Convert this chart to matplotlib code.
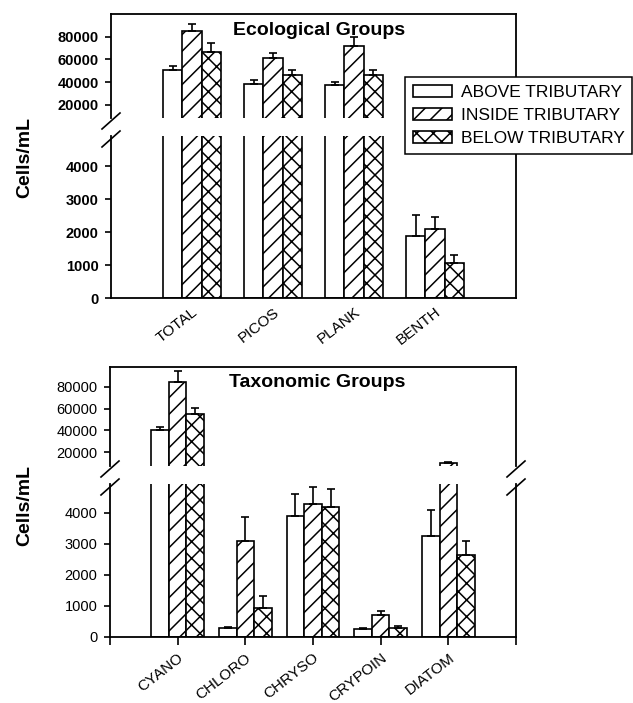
import numpy as np
import matplotlib.pyplot as plt
from matplotlib.lines import Line2D

plt.rcParams['font.family'] = ['Liberation Sans', 'DejaVu Sans']
plt.rcParams['hatch.linewidth'] = 1.1

series = ['ABOVE TRIBUTARY', 'INSIDE TRIBUTARY', 'BELOW TRIBUTARY']
hatches = ['', '//', 'xx']

# ecological groups (cells/mL), error = upward bar length
eco_groups = ['TOTAL', 'PICOS', 'PLANK', 'BENTH']
eco_above = [50300, 38600, 37400, 1880]
eco_above_err = [3900, 3200, 2600, 640]
eco_inside = [84900, 61000, 72200, 2090]
eco_inside_err = [5900, 4400, 7400, 380]
eco_below = [66300, 46500, 46500, 1060]
eco_below_err = [8300, 4500, 4500, 250]

# taxonomic groups
tax_groups = ['CYANO', 'CHLORO', 'CHRYSO', 'CRYPOIN', 'DIATOM']
tax_above = [40400, 290, 3890, 270, 3260]
tax_above_err = [3000, 30, 710, 30, 830]
tax_inside = [83900, 3090, 4280, 700, 9800]
tax_inside_err = [10600, 760, 560, 130, 1400]
tax_below = [55000, 935, 4180, 300, 2640]
tax_below_err = [5200, 385, 570, 40, 460]

W, H = 633, 703
fig = plt.figure(figsize=(W / 100, H / 100), dpi=100)


def px_axes(left, right, top, bottom):
    return fig.add_axes([left / W, 1 - bottom / H, (right - left) / W, (bottom - top) / H])


def break_mark(x, y):
    # x, y in pixels from top-left
    dx, dy = 9, 8
    fig.add_artist(Line2D([(x - dx) / W, (x + dx) / W],
                          [1 - (y + dy) / H, 1 - (y - dy) / H],
                          color='black', lw=1.2, transform=fig.transFigure))


def draw_bars(ax, values, errors, width):
    n = len(values[0])
    x = np.arange(1, n + 1)
    bars = []
    for i in range(3):
        pos = x + (i - 1) * width
        b = ax.bar(pos, values[i], width, color='white', edgecolor='black',
                   hatch=hatches[i], linewidth=1.2, label=series[i])
        ax.errorbar(pos, values[i], yerr=[np.zeros(n), errors[i]], fmt='none',
                    ecolor='black', elinewidth=1.2, capsize=3, capthick=1.2)
        bars.append(b)
    return bars


def style_pair(ax_hi, ax_lo, hi_lim, lo_lim, nx, weight):
    ax_hi.set_ylim(*hi_lim)
    ax_lo.set_ylim(*lo_lim)
    for ax in (ax_hi, ax_lo):
        ax.set_xlim(0, nx + 1)
        for s in ax.spines.values():
            s.set_linewidth(1.3)
        ax.tick_params(axis='y', direction='out', length=4, width=1.2, pad=5,
                       labelsize=10.5)
    ax_hi.spines['bottom'].set_visible(False)
    ax_lo.spines['top'].set_visible(False)
    ax_hi.tick_params(axis='x', bottom=False, labelbottom=False)
    ax_hi.set_yticks([20000, 40000, 60000, 80000])
    ax_lo.set_yticks([0, 1000, 2000, 3000, 4000])
    for ax in (ax_hi, ax_lo):
        for lab in ax.get_yticklabels():
            lab.set_fontweight(weight)


# ---- top chart: ecological groups
ax1h = px_axes(111, 516, 14, 118)
ax1l = px_axes(111, 516, 136, 298)
eco_vals = [eco_above, eco_inside, eco_below]
eco_errs = [eco_above_err, eco_inside_err, eco_below_err]
bars = draw_bars(ax1h, eco_vals, eco_errs, 0.24)
draw_bars(ax1l, eco_vals, eco_errs, 0.24)
style_pair(ax1h, ax1l, (8500, 100000), (0, 4910), len(eco_groups), 'bold')
ax1l.set_xticks(np.arange(1, len(eco_groups) + 1))
ax1l.set_xticklabels(eco_groups, rotation=38, ha='right', rotation_mode='anchor',
                     fontsize=11)
ax1l.tick_params(axis='x', length=0, pad=5)
ax1h.text(0.514, 0.84, 'Ecological Groups', transform=ax1h.transAxes,
          ha='center', va='center', fontsize=14, fontweight='bold')
break_mark(111, 121)
break_mark(111, 139)
fig.text(25 / W, 1 - 157 / H, 'Cells/mL', rotation=90, ha='center', va='center',
         fontsize=14, fontweight='bold')

# ---- bottom chart: taxonomic groups
ax2h = px_axes(110, 516, 367, 466)
ax2l = px_axes(110, 516, 484, 637)
tax_vals = [tax_above, tax_inside, tax_below]
tax_errs = [tax_above_err, tax_inside_err, tax_below_err]
draw_bars(ax2h, tax_vals, tax_errs, 0.26)
draw_bars(ax2l, tax_vals, tax_errs, 0.26)
style_pair(ax2h, ax2l, (7500, 98000), (0, 4925), len(tax_groups), 'normal')
ax2l.set_xticks(np.arange(0, len(tax_groups) + 2))
ax2l.set_xticklabels([''] + tax_groups + [''], rotation=38, ha='right',
                     rotation_mode='anchor', fontsize=11)
ax2l.tick_params(axis='x', direction='out', length=6, width=1.2, pad=4)
ax2h.text(0.511, 0.84, 'Taxonomic Groups', transform=ax2h.transAxes,
          ha='center', va='center', fontsize=14, fontweight='bold')
break_mark(110, 469)
break_mark(110, 487)
break_mark(516, 469)
break_mark(516, 487)
fig.text(25 / W, 1 - 505 / H, 'Cells/mL', rotation=90, ha='center', va='center',
         fontsize=14, fontweight='bold')

fig.legend(handles=bars, labels=series, loc='upper left',
           bbox_to_anchor=(405 / W, 1 - 77 / H), borderaxespad=0,
           fontsize=12.5, frameon=True, fancybox=False, edgecolor='black',
           framealpha=1, handlelength=2.25, handleheight=0.7,
           handletextpad=0.5, labelspacing=0.45, borderpad=0.45)
fig.legends[0].get_frame().set_linewidth(1.1)

fig.savefig('out.png', dpi=100)
